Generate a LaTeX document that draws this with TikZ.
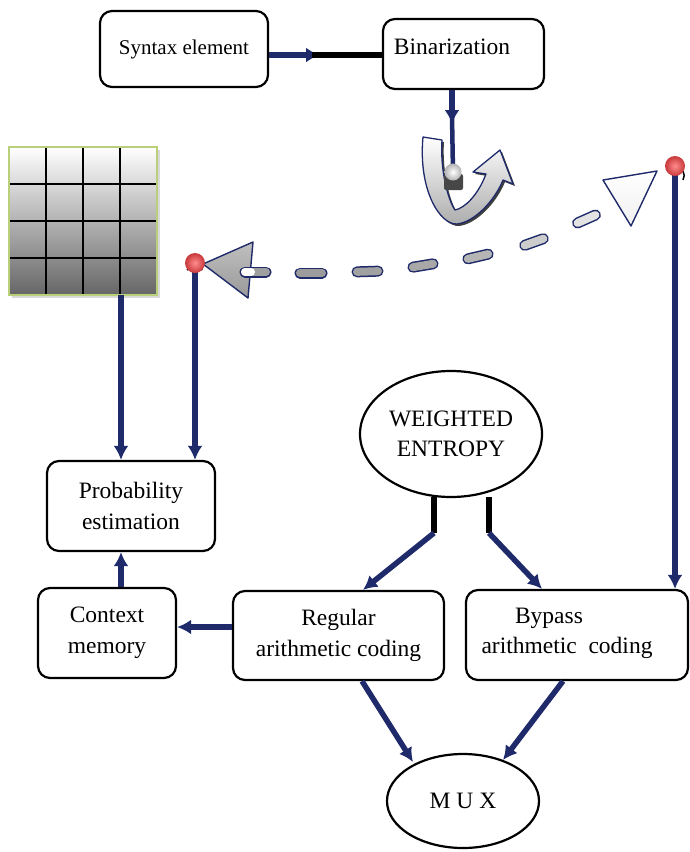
\documentclass[tikz,border=0pt]{standalone}
\usepackage{fontspec}
\setmainfont{Liberation Serif}
\usetikzlibrary{arrows.meta,shapes.geometric,calc}
\definecolor{navy}{HTML}{1F2A6A}
\definecolor{gridedge}{HTML}{B9CF78}
\definecolor{dotred}{HTML}{C8383A}
\begin{document}
\begin{tikzpicture}[x=1pt,y=-1pt,
  box/.style={draw=black, line width=2.2pt, rounded corners=12pt, fill=white,
    align=center, inner sep=0pt, font=\fontsize{23.5}{31}\selectfont},
  oval/.style={ellipse, draw=black, line width=2.2pt, fill=white, align=center,
    inner sep=0pt, font=\fontsize{23.5}{30}\selectfont},
  label/.style={align=center, inner sep=0pt, font=\fontsize{23.5}{30}\selectfont},
  conn/.style={draw=navy, line width=5.5pt, -{Latex[length=14pt,width=15pt]}},
  plain/.style={draw=navy, line width=5pt},
  bar/.style={draw=black, line width=5.5pt},
  pillout/.style={draw=navy, line width=11pt, line cap=round, shorten <=5pt, shorten >=5pt},
  pillin/.style={line width=8pt, line cap=round, shorten <=5pt, shorten >=5pt},
  tri/.style={draw=navy, line width=1.4pt, line join=round},
  reddot/.style={inner color=red!45!white, outer color=dotred},
]
\useasboundingbox (0,0) rectangle (689,852);

% ---------- blocks ----------
\node[box, minimum width=168pt, minimum height=76pt] (syn) at (184,49)
  {\fontsize{21}{28}\selectfont Syntax element};
\node[box, minimum width=161pt, minimum height=70pt] (bin) at (463.5,54) {};
\node[label] (bint) at (452,47) {Binarization};
\node[box, minimum width=168pt, minimum height=90pt] (prob) at (131,506)
  {Probability\\estimation};
\node[box, minimum width=138pt, minimum height=90pt] (ctx) at (107,633)
  {Context\\memory};
\node[box, minimum width=211pt, minimum height=89pt] (reg) at (338.5,635.5)
  {Regular\\arithmetic coding};
\node[box, minimum width=222pt, minimum height=90pt] (byp) at (577,635) {};
\node[label, anchor=base] (bypt1) at (549,623) {Bypass};
\node[label, anchor=base] (bypt2) at (567,653) {arithmetic~~coding};
\node[oval, minimum width=182pt, minimum height=126pt] (we) at (451,434)
  {WEIGHTED\\ENTROPY};
\node[oval, minimum width=152pt, minimum height=94pt] (mux) at (463,801)
  {M U X};

% ---------- context model grid ----------
\fill[black!25, opacity=0.6] (12,150) rectangle (160,298);
\shade[top color=white, bottom color=black!60] (9,147) rectangle (157,295);
\foreach \gx in {46,83,120} \draw[black, line width=1.2pt] (\gx,147) -- (\gx,295);
\foreach \gy in {184,221,258} \draw[black, line width=1.2pt] (9,\gy) -- (157,\gy);
\draw[gridedge, line width=1.4pt] (9,147) rectangle (157,295);
\coordinate (gridbot) at (121,295);

% ---------- switch dots ----------
\coordinate (ld) at (195,263);
\coordinate (rd) at (675,166);

% ---------- syntax element -> binarization ----------
\coordinate (sb) at (320,55);
\coordinate (sbk) at (312,55);
\draw[conn] (syn.east |- sb) -- (sb);
\draw[bar] (sbk) -- (bin.west |- sbk);

% ---------- binarization -> bin switch ----------
\coordinate (bd) at (452,124);
\coordinate (bdk) at (452,116);
\coordinate (bball) at (453,172);

% curved ribbon arrow with a dark drop shadow
\fill[black!75] (425,139) .. controls (420,192) and (442,227) .. (459,226)
  .. controls (477,224) and (497,202) .. (505,182) -- (515,186) -- (502,152)
  -- (475,174) -- (488,176) .. controls (480,197) and (467,210) .. (457,212)
  .. controls (450,202) and (442,172) .. (444,142) -- cycle;
\shade[top color=white, bottom color=gray!65]
  (423,137) .. controls (418,190) and (440,225) .. (457,224)
  .. controls (475,222) and (495,200) .. (503,180) -- (513,184) -- (500,150)
  -- (473,172) -- (486,174) .. controls (478,195) and (465,208) .. (455,210)
  .. controls (448,200) and (440,170) .. (442,140) -- cycle;
\draw[navy, line width=1.3pt, line join=round]
  (423,137) .. controls (418,190) and (440,225) .. (457,224)
  .. controls (475,222) and (495,200) .. (503,180) -- (513,184) -- (500,150)
  -- (473,172) -- (486,174) .. controls (478,195) and (465,208) .. (455,210)
  .. controls (448,200) and (440,170) .. (442,140) -- cycle;

\draw[conn] (bin.south -| bd) -- (bd);
\draw[plain, line width=4.5pt] (bdk) -- (bball);
\fill[black!72, rounded corners=2pt] (444,174) rectangle (463,190);
\shade[inner color=white, outer color=gray!60] (bball) circle (8.5);

% ---------- dashed feedback path ----------
\draw[tri, top color=gray!50, bottom color=gray!80] (203,264) -- (253,242) -- (248,298) -- cycle;
\draw[tri, top color=white, bottom color=gray!12] (603,180) -- (657,171) -- (631,226) -- cycle;

\draw[pillout] (240,272) -- (271,272);
\draw[pillin, draw=gray!75] (240,272) -- (271,272);
\draw[pillin, draw=white] (240,272) -- (256,272);
\draw[pillout] (295,273) -- (327,273);
\draw[pillin, draw=gray!78] (295,273) -- (327,273);
\draw[pillout] (352,272) -- (383,271);
\draw[pillin, draw=gray!74] (352,272) -- (383,271);
\draw[pillout] (408,268) -- (438,263);
\draw[pillin, draw=gray!68] (408,268) -- (438,263);
\draw[pillout] (463,260) -- (493,253);
\draw[pillin, draw=gray!58] (463,260) -- (493,253);
\draw[pillout] (520,247) -- (548,237);
\draw[pillin, draw=gray!40] (520,247) -- (548,237);
\draw[pillout] (573,225) -- (600,213);
\draw[pillin, draw=gray!22] (573,225) -- (600,213);

% ---------- connectors into probability estimation ----------
\draw[conn] (ld) -- (prob.north -| ld);
\draw[conn] (gridbot) -- (prob.north -| gridbot);
\coordinate (cu) at (121,0);
\draw[conn] (ctx.north -| cu) -- (prob.south -| cu);
\coordinate (rc) at (0,627);
\draw[conn] (reg.west |- rc) -- (ctx.east |- rc);

% bypass branch from the right switch
\draw[conn] (rd) -- (byp.north -| rd);

% switch dots drawn over the line ends
\draw[black, line width=1.5pt] ($(ld)+(-8,7)$) arc[start angle=220, end angle=320, radius=10];
\shade[reddot] (ld) circle (10);
\draw[black, line width=1.5pt] ($(rd)+(8,5)$) arc[start angle=-30, end angle=30, radius=9];
\shade[reddot] (rd) circle (10);

% ---------- weighted entropy split ----------
\coordinate (wl) at (434,533);
\coordinate (wr) at (489,533);
\coordinate (wlt) at (434,497);
\coordinate (wrt) at (489,497);
\draw[bar] (wlt) -- (wl);
\draw[bar] (wrt) -- (wr);
\coordinate (rt) at (363,0);
\coordinate (bt) at (542,0);
\draw[conn] (wl) -- (reg.north -| rt);
\draw[conn] (wr) -- (byp.north -| bt);

% ---------- to the multiplexer ----------
\coordinate (rb) at (362,0);
\coordinate (bb) at (563,0);
\coordinate (m1) at (413,762);
\coordinate (m2) at (503,760);
\draw[conn] (reg.south -| rb) -- (m1);
\draw[conn] (byp.south -| bb) -- (m2);
\end{tikzpicture}
\end{document}
